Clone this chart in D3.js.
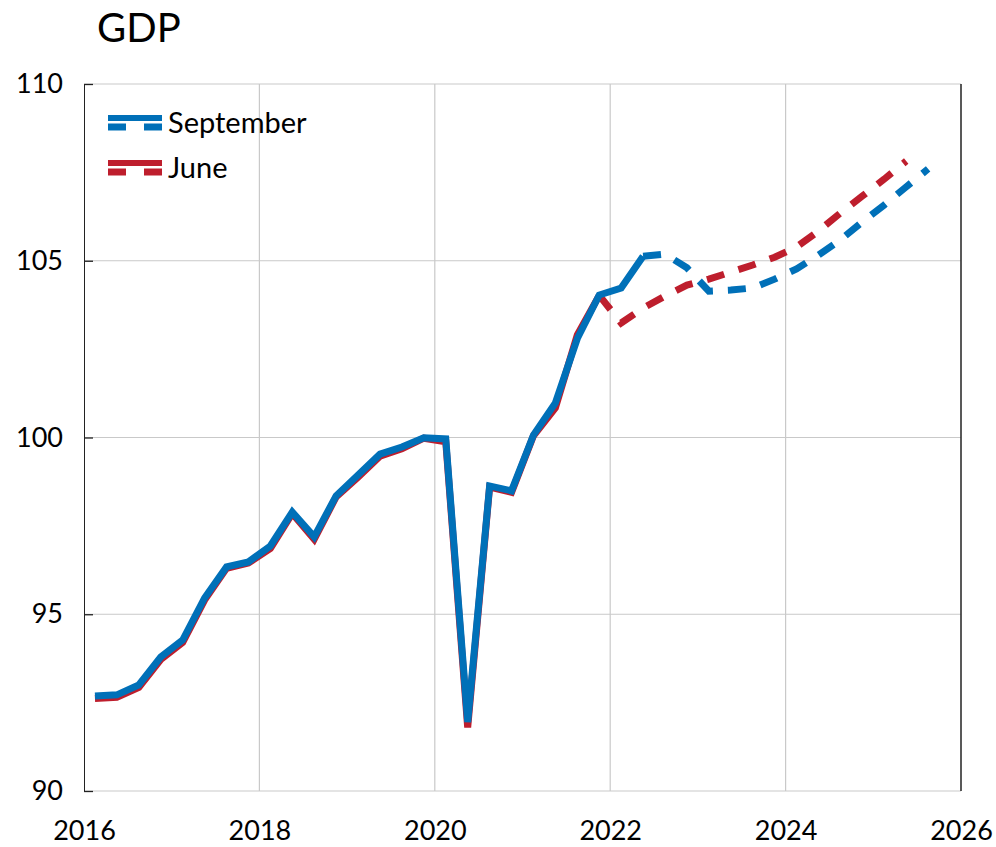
<!DOCTYPE html>
<html>
<head>
<meta charset="utf-8">
<script src="https://cdn.jsdelivr.net/npm/d3@7"></script>
<style>
  html, body { margin: 0; padding: 0; background: #fff; }
  svg { display: block; font-family: Lato, "Open Sans", sans-serif; }
</style>
</head>
<body>
<svg id="chart" width="996" height="847"></svg>
<script>
// ---- data ----
const quarters = [
  "2016Q1","2016Q2","2016Q3","2016Q4",
  "2017Q1","2017Q2","2017Q3","2017Q4",
  "2018Q1","2018Q2","2018Q3","2018Q4",
  "2019Q1","2019Q2","2019Q3","2019Q4",
  "2020Q1","2020Q2","2020Q3","2020Q4",
  "2021Q1","2021Q2","2021Q3","2021Q4",
  "2022Q1","2022Q2","2022Q3","2022Q4",
  "2023Q1","2023Q2","2023Q3","2023Q4",
  "2024Q1","2024Q2","2024Q3","2024Q4",
  "2025Q1","2025Q2","2025Q3"
];
const september = [
  92.69, 92.72, 93.00, 93.79,
  94.27, 95.46, 96.34, 96.48,
  96.93, 97.89, 97.19, 98.35,
  98.94, 99.53, 99.73, 99.99,
  99.96, 91.95, 98.63, 98.49,
  100.07, 100.98, 102.80, 104.03,
  104.23, 105.13, 105.19, 104.80,
  104.14, 104.17, 104.23, 104.48,
  104.77, 105.16, 105.59, 106.10,
  106.58, 107.09, 107.60
];
const june = [
  92.62, 92.65, 92.93, 93.72,
  94.20, 95.40, 96.30, 96.45,
  96.86, 97.85, 97.12, 98.32,
  98.88, 99.47, 99.68, 99.98,
  99.88, 91.80, 98.60, 98.45,
  100.05, 100.84, 102.90, 104.02,
  103.24, 103.66, 104.00, 104.31,
  104.48, 104.68, 104.88, 105.10,
  105.39, 105.84, 106.35, 106.83,
  107.31, 107.82
];
const septemberLastActual = "2022Q2";
const juneLastActual = "2021Q4";
const yTicks = [90, 95, 100, 105, 110];
const xTicks = [2016, 2018, 2020, 2022, 2024, 2026];
const seriesNames = ["September", "June"];
const seriesColors = ["#0070b8", "#be1e2d"];
const chartTitle = "GDP";

// ---- layout ----
const svg = d3.select("#chart");
const M = { left: 84, right: 961, top: 84, bottom: 791 };

function qToYear(q) {
  const yr = +q.slice(0, 4), n = +q.slice(5);
  return yr + (n - 0.5) / 4;
}

const x = d3.scaleLinear().domain([2016, 2026]).range([M.left, M.right]);
const y = d3.scaleLinear().domain([90, 110]).range([M.bottom, M.top]);

// gridlines
const grid = svg.append("g");
grid.selectAll("line.h").data(yTicks).join("line").attr("class", "h")
  .attr("x1", M.left).attr("x2", M.right)
  .attr("y1", d => y(d)).attr("y2", d => y(d))
  .attr("stroke", "#c9c9c9").attr("stroke-width", 1.2);
grid.selectAll("line.v").data(xTicks.filter(d => d > 2016 && d < 2026)).join("line").attr("class", "v")
  .attr("y1", M.top).attr("y2", M.bottom)
  .attr("x1", d => x(d)).attr("x2", d => x(d))
  .attr("stroke", "#c9c9c9").attr("stroke-width", 1.2);

// right border
svg.append("line").attr("x1", M.right).attr("x2", M.right).attr("y1", M.top).attr("y2", M.bottom)
  .attr("stroke", "#222").attr("stroke-width", 1.5);

// y axis
const yAxis = svg.append("g").attr("transform", `translate(${M.left},0)`)
  .call(d3.axisLeft(y).tickValues(yTicks).tickSizeInner(-9).tickSizeOuter(0).tickPadding(21));
yAxis.select(".domain").attr("stroke", "#222");
yAxis.selectAll(".tick line").attr("stroke", "#222").attr("stroke-width", 1.3);
yAxis.selectAll("text").attr("font-size", 27).attr("font-family", "Lato, 'Open Sans', sans-serif").attr("fill", "#000");

// x axis labels
const xAxis = svg.append("g").attr("transform", `translate(0,${M.bottom})`)
  .call(d3.axisBottom(x).tickValues(xTicks).tickFormat(d3.format("d")).tickSize(0).tickPadding(30));
xAxis.select(".domain").remove();
xAxis.selectAll("text").attr("font-size", 27).attr("font-family", "Lato, 'Open Sans', sans-serif").attr("fill", "#000");

// lines
const line = d3.line().x(d => x(qToYear(d.q))).y(d => y(d.v));

function drawSeries(vals, lastActual, color) {
  const pts = vals.map((v, i) => ({ q: quarters[i], v }));
  const k = quarters.indexOf(lastActual);
  const actual = pts.slice(0, k + 1);
  const fc = pts.slice(k);
  svg.append("path").datum(actual).attr("d", line)
    .attr("fill", "none").attr("stroke", color).attr("stroke-width", 7);
  svg.append("path").datum(fc).attr("d", line)
    .attr("fill", "none").attr("stroke", color).attr("stroke-width", 7)
    .attr("stroke-dasharray", "18,15");
}
drawSeries(june, juneLastActual, seriesColors[1]);
drawSeries(september, septemberLastActual, seriesColors[0]);

// title
svg.append("text").attr("x", 97).attr("y", 42).attr("font-size", 40)
  .attr("fill", "#000").text(chartTitle);

// legend
const legend = svg.append("g");
seriesNames.forEach((name, i) => {
  const yy = 118 + i * 45;
  legend.append("line").attr("x1", 108).attr("x2", 162).attr("y1", yy).attr("y2", yy)
    .attr("stroke", seriesColors[i]).attr("stroke-width", 6);
  legend.append("line").attr("x1", 108).attr("x2", 162).attr("y1", yy + 9).attr("y2", yy + 9)
    .attr("stroke", seriesColors[i]).attr("stroke-width", 7).attr("stroke-dasharray", "18,18");
  legend.append("text").attr("x", 168).attr("y", yy + 15).attr("font-size", 29)
    .attr("fill", "#000").text(name);
});
</script>
</body>
</html>
